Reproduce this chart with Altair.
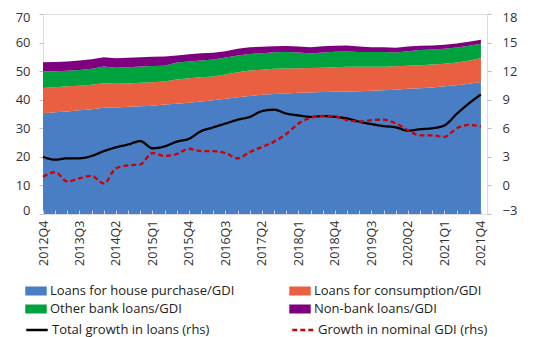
import altair as alt
import pandas as pd

quarters = ["2012Q4","2013Q1","2013Q2","2013Q3","2013Q4","2014Q1","2014Q2","2014Q3","2014Q4",
            "2015Q1","2015Q2","2015Q3","2015Q4","2016Q1","2016Q2","2016Q3","2016Q4",
            "2017Q1","2017Q2","2017Q3","2017Q4","2018Q1","2018Q2","2018Q3","2018Q4",
            "2019Q1","2019Q2","2019Q3","2019Q4","2020Q1","2020Q2","2020Q3","2020Q4",
            "2021Q1","2021Q2","2021Q3","2021Q4"]

house = [35.3,35.6,35.9,36.3,36.7,37.2,37.3,37.5,37.7,37.9,38.3,38.6,38.9,39.4,39.8,40.3,40.9,
         41.3,41.7,42.0,42.2,42.4,42.5,42.7,42.8,42.9,43.0,43.1,43.3,43.5,43.8,44.0,44.3,44.7,45.1,45.6,46.2]
consumption = [8.8,8.8,8.8,8.6,8.5,8.6,8.3,8.2,8.2,8.2,8.1,8.5,8.6,8.5,8.3,8.5,8.7,
               8.9,8.8,8.8,8.7,8.6,8.6,8.5,8.6,8.6,8.5,8.4,8.2,8.2,8.1,8.1,8.0,7.9,7.9,8.0,8.4]
other_bank = [5.8,5.6,5.4,5.5,5.6,5.8,5.6,5.7,5.7,5.7,5.5,5.9,5.9,5.8,6.0,6.0,5.9,
              5.8,5.8,5.8,5.8,5.5,5.1,5.3,5.4,5.4,5.2,5.2,5.2,4.8,5.1,5.3,5.3,5.2,5.3,5.3,5.0]
non_bank = [3.2,3.2,3.3,3.3,3.4,3.3,3.3,3.3,3.3,3.2,3.2,2.5,2.5,2.6,2.3,2.2,2.3,
            2.4,2.2,2.1,2.1,2.1,2.2,2.2,2.1,2.1,1.9,1.7,1.7,1.7,1.6,1.5,1.4,1.4,1.4,1.4,1.4]

total_growth = [3.0,2.7,2.85,2.85,3.1,3.6,4.0,4.3,4.65,3.9,4.1,4.6,4.9,5.7,6.1,6.5,6.9,
                7.2,7.8,7.95,7.55,7.35,7.2,7.28,7.2,7.03,6.69,6.44,6.23,6.1,5.75,5.9,6.0,6.3,7.5,8.6,9.55]
gdi_growth = [0.9,1.4,0.4,0.75,1.0,0.2,1.8,2.1,2.2,3.4,3.1,3.3,3.85,3.6,3.6,3.4,2.85,
              3.5,4.05,4.6,5.4,6.5,7.1,7.3,7.25,6.85,6.7,6.85,6.9,6.5,5.8,5.25,5.25,5.1,6.0,6.35,6.2]

area_names = ["Loans for house purchase/GDI", "Loans for consumption/GDI",
              "Other bank loans/GDI", "Non-bank loans/GDI"]
area_colors = ["#4a7ec4", "#e8603f", "#00a23e", "#7f007f"]
line_names = ["Total growth in loans (rhs)", "Growth in nominal GDI (rhs)"]
line_colors = ["#000000", "#cc0000"]

label_ticks = list(range(0, len(quarters), 3))

rows = []
for k, (name, vals) in enumerate(zip(area_names, [house, consumption, other_bank, non_bank])):
    for i, v in enumerate(vals):
        rows.append({"q": i, "series": name, "value": v, "ord": k})
area_df = pd.DataFrame(rows)

lrows = []
for name, vals in zip(line_names, [total_growth, gdi_growth]):
    for i, v in enumerate(vals):
        lrows.append({"q": i, "series": name, "value": v})
line_df = pd.DataFrame(lrows)

FONT = "Open Sans"
H = 200
label_expr = "[" + ",".join("'%s'" % s for s in quarters) + "][datum.value]"
xscale = alt.Scale(domain=[0, 36.5], nice=False, zero=False)

areas = alt.Chart(area_df).mark_area(interpolate="linear").encode(
    x=alt.X("q:Q", scale=xscale,
            axis=alt.Axis(values=label_ticks, labelExpr=label_expr, labelAngle=270,
                          title=None, domain=False, ticks=False, grid=False,
                          labelPadding=6, labelFont=FONT, labelFontSize=12.5,
                          labelColor="#333333")),
    y=alt.Y("value:Q", stack="zero",
            scale=alt.Scale(domain=[0, 70], nice=False),
            axis=alt.Axis(values=list(range(0, 71, 10)), title=None, grid=False,
                          domain=False, tickSize=4, tickColor="#bfbfbf",
                          labelFlush=True, labelFlushOffset=3,
                          labelPadding=9, labelFont=FONT, labelFontSize=13,
                          labelColor="#333333")),
    fill=alt.Fill("series:N", scale=alt.Scale(domain=area_names, range=area_colors),
                  legend=alt.Legend(title=None, orient="none", legendX=-18, legendY=266,
                                    direction="horizontal", columns=2, columnPadding=54,
                                    rowPadding=0, labelLimit=400,
                                    symbolType="M-1,-0.42L1,-0.42L1,0.42L-1,0.42Z",
                                    symbolSize=460, symbolStrokeWidth=0,
                                    labelFont=FONT, labelFontSize=13, labelColor="#222222",
                                    labelOffset=3)),
    order=alt.Order("ord:Q"),
)

tick_layer = alt.Chart(pd.DataFrame({"q": list(range(len(quarters)))})).mark_point(opacity=0).encode(
    x=alt.X("q:Q", scale=xscale,
            axis=alt.Axis(orient="top", offset=-H, values=list(range(len(quarters))),
                          labels=False, domain=False, grid=False, title=None,
                          tickSize=4, tickColor="#d0d0d0", zindex=1)),
)

line_legend = alt.Legend(title=None, orient="none", legendX=-18, legendY=304,
                         direction="horizontal", columns=2, columnPadding=77,
                         labelLimit=400, symbolType="stroke", symbolSize=460,
                         symbolStrokeWidth=2.3, labelFont=FONT, labelFontSize=13,
                         labelColor="#222222", labelOffset=3)

lines = alt.Chart(line_df).mark_line(interpolate="monotone", strokeWidth=2.3).encode(
    x=alt.X("q:Q", scale=xscale, axis=None),
    y=alt.Y("value:Q", scale=alt.Scale(domain=[-3, 18], nice=False),
            axis=alt.Axis(orient="right", values=list(range(-3, 19, 3)), title=None,
                          grid=False, domain=False, tickSize=4, tickColor="#bfbfbf",
                          labelFlush=True, labelFlushOffset=3,
                          labelPadding=11, labelFont=FONT, labelFontSize=13,
                          labelColor="#333333")),
    stroke=alt.Stroke("series:N", scale=alt.Scale(domain=line_names, range=line_colors),
                      legend=line_legend),
    strokeDash=alt.StrokeDash("series:N",
                              scale=alt.Scale(domain=line_names, range=[[1, 0], [5, 3]]),
                              legend=line_legend),
)

chart = alt.layer(areas, tick_layer, lines).resolve_scale(
    y="independent"
).resolve_axis(x="independent").properties(
    width=444, height=H,
    autosize=alt.AutoSizeParams(type="none"),
    padding={"left": 35, "top": 6, "right": 57, "bottom": 125},
).configure_view(stroke="#d9d9d9", strokeWidth=1).configure(background="white")

chart.save("out.html", embed_options={"renderer": "svg", "actions": False})
